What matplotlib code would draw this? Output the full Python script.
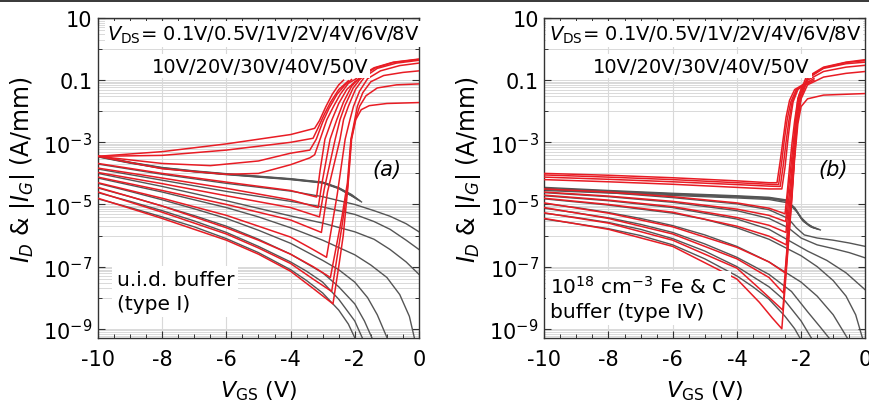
import numpy as np
import matplotlib.pyplot as plt
from matplotlib.ticker import FixedLocator, NullFormatter
from matplotlib.patches import Rectangle

# drain bias of each transfer sweep
vds = [0.1, 0.5, 1, 2, 4, 6, 8, 10, 20, 30, 40, 50]

# each sweep: (VGS [V], log10 current [A/mm]), listed in the order of vds
# (a) u.i.d. buffer, drain current
id_a = [
    [(-10, -4.8), (-8, -5.45), (-6, -6.15), (-5, -6.6), (-4, -7.15), (-3.3, -7.7), (-2.68, -8.2),
     (-2.5, -7.0), (-2.36, -6.0), (-2.22, -4.5), (-2.1, -2.9), (-1.97, -2.27), (-1.8, -1.95),
     (-1.55, -1.82), (-1.0, -1.75), (0, -1.72)],
    [(-10, -4.6), (-8, -5.25), (-6, -5.95), (-5, -6.4), (-4, -6.9), (-3.3, -7.4), (-2.72, -7.8),
     (-2.4, -5.7), (-2.22, -4.4), (-2.11, -2.9), (-1.98, -2.27), (-1.85, -1.84), (-1.65, -1.5),
     (-1.3, -1.25), (-0.7, -1.15), (0, -1.12)],
    [(-10, -4.45), (-8, -5.05), (-6, -5.75), (-5, -6.15), (-4, -6.6), (-3.3, -7.0), (-2.76, -7.35),
     (-2.4, -5.4), (-2.23, -4.3), (-2.12, -2.9), (-2.0, -2.27), (-1.92, -1.84), (-1.75, -1.4),
     (-1.5, -1.05), (-1.1, -0.85), (-0.5, -0.75), (0, -0.7)],
    [(-10, -4.3), (-8, -4.8), (-6, -5.35), (-4, -6.05), (-3.3, -6.45), (-2.88, -6.7),
     (-2.55, -4.7), (-2.3, -2.9), (-2.15, -2.27), (-2.04, -1.84), (-1.85, -1.35), (-1.6, -0.95),
     (-1.2, -0.7), (-0.6, -0.53), (0, -0.45)],
    [(-10, -4.12), (-8, -4.55), (-6, -5.0), (-4, -5.5), (-3.04, -5.9),
     (-2.85, -4.6), (-2.46, -2.9), (-2.35, -2.27), (-2.2, -1.84), (-1.98, -1.3), (-1.7, -0.9),
     (-1.3, -0.62), (-0.7, -0.45), (0, -0.36)],
    [(-10, -3.97), (-8, -4.33), (-6, -4.72), (-4, -5.1), (-3.1, -5.4),
     (-2.95, -4.5), (-2.61, -2.9), (-2.46, -2.27), (-2.3, -1.8), (-2.05, -1.25), (-1.75, -0.85),
     (-1.35, -0.6), (-0.8, -0.43), (0, -0.33)],
    [(-10, -3.83), (-8, -4.15), (-6, -4.48), (-4, -4.85), (-3.14, -5.1),
     (-3.02, -4.3), (-2.77, -2.9), (-2.56, -2.27), (-2.35, -1.7), (-2.1, -1.2), (-1.8, -0.85),
     (-1.4, -0.6), (-0.8, -0.42), (0, -0.32)],
    [(-10, -3.68), (-8, -4.0), (-6, -4.28), (-4, -4.55), (-3.19, -4.76),
     (-3.08, -3.9), (-2.93, -2.9), (-2.71, -2.27), (-2.5, -1.75), (-2.25, -1.3), (-2.0, -1.05),
     (-1.8, -0.93)],
    [(-10, -3.45), (-8, -3.85), (-6, -4.03), (-5, -4.0), (-4, -3.72), (-3.4, -3.5), (-3.25, -3.4),
     (-3.08, -2.9), (-2.87, -2.27), (-2.66, -1.84), (-2.45, -1.45), (-2.2, -1.1), (-1.95, -0.95)],
    [(-10, -3.45), (-8, -3.68), (-6.5, -3.75), (-5, -3.6), (-4, -3.35), (-3.4, -3.25),
     (-3.2, -2.9), (-3.0, -2.35), (-2.8, -1.9), (-2.55, -1.45), (-2.3, -1.15), (-2.1, -0.98)],
    [(-10, -3.45), (-8, -3.42), (-6, -3.25), (-4, -3.0), (-3.3, -2.87),
     (-3.15, -2.55), (-2.95, -2.1), (-2.75, -1.7), (-2.5, -1.3), (-2.2, -1.02)],
    [(-10, -3.45), (-8, -3.3), (-6, -3.05), (-4, -2.75), (-3.25, -2.55),
     (-3.1, -2.3), (-2.9, -1.85), (-2.7, -1.45), (-2.5, -1.15), (-2.35, -1.0)],
]

# (a) u.i.d. buffer, gate current magnitude
ig_a = [
    [(-10, -4.82), (-9, -5.1), (-8, -5.4), (-7, -5.72), (-6, -6.1), (-5, -6.55), (-4, -7.1), (-3.5, -7.45),
     (-3, -7.85), (-2.5, -8.4), (-2.2, -8.85), (-1.95, -9.4)],
    [(-10, -4.62), (-9, -4.9), (-8, -5.2), (-7, -5.53), (-6, -5.9), (-5, -6.35), (-4, -6.85), (-3.5, -7.15),
     (-3, -7.5), (-2.5, -8.05), (-2.0, -8.75), (-1.72, -9.4)],
    [(-10, -4.47), (-9, -4.75), (-8, -5.05), (-7, -5.36), (-6, -5.7), (-5, -6.12), (-4, -6.6), (-3, -7.2),
     (-2.5, -7.65), (-2.0, -8.2), (-1.7, -8.75), (-1.42, -9.4)],
    [(-10, -4.32), (-9, -4.58), (-8, -4.85), (-7, -5.14), (-6, -5.45), (-5, -5.83), (-4, -6.25), (-3, -6.8),
     (-2.5, -7.1), (-2, -7.5), (-1.6, -8.0), (-1.3, -8.55), (-0.95, -9.4)],
    [(-10, -4.15), (-8, -4.6), (-6, -5.1), (-5, -5.4), (-4, -5.75), (-3, -6.15), (-2, -6.62), (-1.5, -6.95),
     (-1, -7.35), (-0.6, -7.9), (-0.3, -8.6), (-0.12, -9.4)],
    [(-10, -4.0), (-8, -4.42), (-6, -4.88), (-4, -5.37), (-3, -5.6), (-2, -5.88), (-1.4, -6.12), (-0.9, -6.45),
     (-0.4, -6.85), (0, -7.25)],
    [(-10, -3.86), (-8, -4.22), (-6, -4.58), (-4, -4.9), (-3, -5.08), (-2, -5.32), (-1.4, -5.55), (-0.9, -5.8),
     (-0.4, -6.15), (0, -6.45)],
    [(-10, -3.7), (-8, -4.03), (-6, -4.32), (-4, -4.57), (-3, -4.75), (-2, -5.0), (-1.4, -5.2), (-0.9, -5.38),
     (-0.4, -5.62), (0, -5.88)],
    [(-10, -3.47), (-9, -3.67), (-8, -3.84), (-7, -3.95), (-6, -4.04), (-5, -4.12), (-4, -4.2), (-3, -4.31),
     (-2.5, -4.49), (-2.0, -4.78)],
    [(-10, -3.46), (-9, -3.66), (-8, -3.83), (-7, -3.94), (-6, -4.03), (-5, -4.11), (-4, -4.19), (-3, -4.3),
     (-2.5, -4.48), (-2.1, -4.72), (-1.9, -4.85)],
    [(-10, -3.45), (-9, -3.65), (-8, -3.82), (-7, -3.93), (-6, -4.02), (-5, -4.1), (-4, -4.18), (-3, -4.29),
     (-2.5, -4.47), (-2.1, -4.7), (-1.85, -4.88)],
    [(-10, -3.44), (-9, -3.64), (-8, -3.81), (-7, -3.92), (-6, -4.01), (-5, -4.09), (-4, -4.17), (-3, -4.28),
     (-2.5, -4.46), (-2.1, -4.68), (-1.79, -4.92)],
]

# (b) 1e18 cm-3 Fe & C buffer, drain current
id_b = [
    [(-10, -5.45), (-8, -5.8), (-6, -6.35), (-4, -7.4), (-3.3, -8.15), (-2.9, -8.65), (-2.6, -9.0),
     (-2.45, -7.0), (-2.3, -5.0), (-2.2, -3.5), (-2.1, -2.4), (-2.0, -1.85), (-1.8, -1.6), (-1.3, -1.48),
     (0, -1.43)],
    [(-10, -5.27), (-8, -5.6), (-6, -6.15), (-4, -7.05), (-3.2, -7.8), (-2.57, -8.4),
     (-2.43, -6.6), (-2.3, -4.9), (-2.2, -3.4), (-2.12, -2.4), (-2.0, -1.6), (-1.8, -1.15), (-1.3, -0.9),
     (-0.6, -0.78), (0, -0.72)],
    [(-10, -5.1), (-8, -5.45), (-6, -5.95), (-4, -6.75), (-3, -7.35), (-2.55, -7.85),
     (-2.42, -6.3), (-2.3, -4.8), (-2.2, -3.35), (-2.13, -2.4), (-2.0, -1.55), (-1.8, -1.0), (-1.3, -0.72),
     (-0.6, -0.58), (0, -0.52)],
    [(-10, -4.95), (-8, -5.28), (-6, -5.72), (-4, -6.38), (-3, -6.85), (-2.5, -7.2),
     (-2.4, -5.9), (-2.3, -4.7), (-2.2, -3.3), (-2.14, -2.4), (-2.02, -1.5), (-1.8, -0.95), (-1.3, -0.62),
     (-0.6, -0.47), (0, -0.42)],
    [(-10, -4.8), (-8, -5.0), (-6, -5.25), (-4, -5.7), (-3, -6.02), (-2.46, -6.3),
     (-2.38, -5.2), (-2.3, -4.3), (-2.2, -3.2), (-2.15, -2.4), (-2.04, -1.5), (-1.8, -0.92), (-1.3, -0.6),
     (-0.6, -0.43), (0, -0.37)],
    [(-10, -4.7), (-8, -4.86), (-6, -5.07), (-4, -5.42), (-3, -5.67), (-2.47, -5.9),
     (-2.4, -5.0), (-2.32, -4.2), (-2.23, -3.2), (-2.17, -2.4), (-2.07, -1.5), (-1.85, -0.92), (-1.3, -0.58),
     (-0.6, -0.42), (0, -0.34)],
    [(-10, -4.6), (-8, -4.73), (-6, -4.9), (-4, -5.15), (-3, -5.35), (-2.48, -5.55),
     (-2.42, -4.8), (-2.34, -4.0), (-2.25, -3.1), (-2.18, -2.4), (-2.1, -1.6), (-1.95, -1.15), (-1.6, -0.95)],
    [(-10, -4.5), (-8, -4.6), (-6, -4.75), (-4, -4.95), (-3, -5.12), (-2.5, -5.3),
     (-2.43, -4.6), (-2.36, -3.8), (-2.28, -3.0), (-2.2, -2.3), (-2.1, -1.6), (-1.95, -1.2), (-1.6, -1.0)],
    [(-10, -4.2), (-8, -4.27), (-6, -4.35), (-4, -4.45), (-3, -4.5), (-2.6, -4.5),
     (-2.5, -3.8), (-2.42, -3.0), (-2.34, -2.3), (-2.25, -1.7), (-2.1, -1.3), (-1.75, -1.05)],
    [(-10, -4.12), (-8, -4.19), (-6, -4.27), (-4, -4.36), (-3, -4.41), (-2.65, -4.42),
     (-2.55, -3.7), (-2.47, -3.0), (-2.38, -2.3), (-2.28, -1.7), (-2.12, -1.3), (-1.8, -1.08)],
    [(-10, -4.05), (-8, -4.12), (-6, -4.2), (-4, -4.3), (-3, -4.35), (-2.7, -4.36),
     (-2.6, -3.6), (-2.52, -2.9), (-2.43, -2.25), (-2.32, -1.7), (-2.15, -1.3), (-1.85, -1.1)],
    [(-10, -4.0), (-8, -4.06), (-6, -4.14), (-4, -4.24), (-3, -4.3), (-2.75, -4.3),
     (-2.65, -3.6), (-2.56, -2.9), (-2.47, -2.2), (-2.36, -1.65), (-2.2, -1.3), (-1.9, -1.12)],
]

# (b) 1e18 cm-3 Fe & C buffer, gate current magnitude
ig_b = [
    [(-10, -5.47), (-9, -5.62), (-8, -5.78), (-7, -6.0), (-6, -6.3), (-5, -6.75), (-4, -7.3), (-3.5, -7.65),
     (-3, -8.05), (-2.5, -8.6), (-2.2, -9.0), (-1.98, -9.4)],
    [(-10, -5.28), (-9, -5.42), (-8, -5.58), (-7, -5.8), (-6, -6.1), (-5, -6.5), (-4, -7.0), (-3, -7.65),
     (-2.5, -8.1), (-2.0, -8.75), (-1.62, -9.4)],
    [(-10, -5.12), (-9, -5.27), (-8, -5.43), (-7, -5.64), (-6, -5.9), (-5, -6.27), (-4, -6.7), (-3, -7.25),
     (-2.3, -7.8), (-1.8, -8.45), (-1.4, -8.95), (-1.05, -9.4)],
    [(-10, -4.97), (-9, -5.1), (-8, -5.26), (-7, -5.45), (-6, -5.68), (-5, -5.98), (-4, -6.35), (-3, -6.85),
     (-2, -7.5), (-1.5, -7.95), (-1, -8.55), (-0.5, -9.4)],
    [(-10, -4.82), (-8, -5.02), (-6, -5.28), (-5, -5.48), (-4, -5.75), (-3, -6.12), (-2, -6.65), (-1.5, -7.0),
     (-1, -7.45), (-0.6, -7.95), (-0.3, -8.55), (-0.06, -9.4)],
    [(-10, -4.72), (-8, -4.88), (-6, -5.1), (-4, -5.47), (-3, -5.8), (-2.4, -6.15), (-1.8, -6.5), (-1.2, -6.8),
     (-0.6, -7.2), (0, -7.75)],
    [(-10, -4.62), (-8, -4.75), (-6, -4.93), (-4, -5.2), (-3, -5.45), (-2.4, -5.75), (-2.0, -6.08), (-1.5, -6.3),
     (-1.0, -6.42), (-0.5, -6.55), (0, -6.72)],
    [(-10, -4.52), (-8, -4.62), (-6, -4.78), (-4, -4.98), (-3, -5.17), (-2.4, -5.45), (-2.15, -5.75),
     (-1.9, -5.98), (-1.5, -6.08), (-1.0, -6.15), (-0.5, -6.24), (0, -6.35)],
    [(-10, -4.45), (-8, -4.55), (-6, -4.64), (-4, -4.72), (-3, -4.77), (-2.48, -4.85), (-2.2, -5.1),
     (-2.0, -5.42), (-1.8, -5.62), (-1.6, -5.75)],
    [(-10, -4.48), (-8, -4.57), (-6, -4.66), (-4, -4.74), (-3, -4.79), (-2.45, -4.88), (-2.18, -5.15),
     (-1.98, -5.48), (-1.75, -5.68), (-1.5, -5.78)],
    [(-10, -4.5), (-8, -4.6), (-6, -4.68), (-4, -4.76), (-3, -4.81), (-2.42, -4.9), (-2.15, -5.2),
     (-1.95, -5.52), (-1.7, -5.72), (-1.45, -5.8)],
    [(-10, -4.55), (-8, -4.63), (-6, -4.71), (-4, -4.79), (-3, -4.84), (-2.4, -4.95), (-2.12, -5.25),
     (-1.92, -5.55), (-1.65, -5.74), (-1.4, -5.82)],
]

ytick_vals = [1e1, 1e-1, 1e-3, 1e-5, 1e-7, 1e-9]
ytick_labels = ['10', '0.1', '$10^{-3}$', '$10^{-5}$', '$10^{-7}$', '$10^{-9}$']
xtick_vals = [-10, -8, -6, -4, -2, 0]
xtick_labels = ['-10', '-8', '-6', '-4', '-2', '0']

red = '#e81c24'
gray = '#555555'
grid_col = '#d9d9d9'

plt.rcParams['font.family'] = 'DejaVu Sans'
plt.rcParams['mathtext.fontset'] = 'dejavusans'

fig = plt.figure(figsize=(8.7, 4.14), dpi=100)
ax_a = fig.add_axes([0.1126, 0.181, 0.369, 0.773])
ax_b = fig.add_axes([0.6256, 0.181, 0.369, 0.773])

# dark rule along the top edge of the page
fig.add_artist(Rectangle((0, 1 - 3 / 414), 1, 3 / 414, transform=fig.transFigure,
                         color='#3c3c3c', lw=0))


def panel(ax, id_curves, ig_curves, tag, note, note_x, note_y, top_x):
    # light grid: verticals at major x ticks, bands of lines under each labelled decade
    for x in xtick_vals[1:-1]:
        ax.axvline(x, color=grid_col, lw=0.8, zorder=0)
    for yv in ytick_vals:
        for m in range(1, 10):
            ax.axhline(yv / 10 * m, color=grid_col, lw=0.7, zorder=0)
        ax.axhline(yv, color=grid_col, lw=0.7, zorder=0)

    for c in ig_curves:
        c = np.array(c)
        ax.semilogy(c[:, 0], 10 ** c[:, 1], color=gray, lw=1.0, zorder=2)
    for c in id_curves:
        c = np.array(c)
        ax.semilogy(c[:, 0], 10 ** c[:, 1], color=red, lw=1.1, zorder=3)

    ax.set_xlim(-10, 0)
    ax.set_ylim(10 ** -9.3, 10 ** 1.0)
    ax.xaxis.set_major_locator(FixedLocator(xtick_vals))
    ax.set_xticklabels(xtick_labels)
    ax.xaxis.set_minor_locator(FixedLocator(np.arange(-10, 0.01, 0.5)))
    ax.yaxis.set_major_locator(FixedLocator(ytick_vals))
    ax.set_yticklabels(ytick_labels)
    ax.yaxis.set_minor_locator(FixedLocator([1e0, 1e-2, 1e-4, 1e-6, 1e-8]))
    ax.yaxis.set_minor_formatter(NullFormatter())
    ax.tick_params(which='both', direction='in', top=True, right=True, labelsize=15,
                   color='#333333')
    ax.tick_params(which='major', length=5, width=0.8)
    ax.tick_params(which='minor', length=3, width=0.7)
    ax.tick_params(axis='x', pad=8)
    ax.tick_params(axis='y', pad=4)
    for s in ax.spines.values():
        s.set_color('#333333')
        s.set_linewidth(1.0)

    ax.set_xlabel(r'$V_{\rm GS}$ (V)', fontsize=16)
    ax.set_ylabel(r'$I_D$ & $|I_G|$ (A/mm)', fontsize=17)
    ax.xaxis.set_label_coords(0.5, -0.125)
    ax.yaxis.set_label_coords(-0.19, 0.53)

    box = dict(facecolor='white', edgecolor='none', pad=1.5)
    ax.text(top_x, 0.95, r'$V_{\rm DS}$= 0.1V/0.5V/1V/2V/4V/6V/8V', transform=ax.transAxes,
            ha='center', va='center', fontsize=14, bbox=box, zorder=5)
    ax.text(top_x - 0.01, 0.85, '10V/20V/30V/40V/50V', transform=ax.transAxes,
            ha='center', va='center', fontsize=14, bbox=box, zorder=5)
    ax.text(0.9, 0.528, tag, transform=ax.transAxes, ha='center', va='center',
            fontsize=15, style='italic', zorder=5)
    ax.text(note_x, note_y, note, transform=ax.transAxes, ha='left', va='center',
            fontsize=14.5, linespacing=1.3, zorder=5,
            bbox=dict(facecolor='white', edgecolor='none', pad=3))


panel(ax_a, id_a, ig_a, '(a)', 'u.i.d. buffer\n(type I)', 0.058, 0.145, 0.514)
panel(ax_b, id_b, ig_b, '(b)', '$10^{18}$ cm$^{-3}$ Fe & C\nbuffer (type IV)', 0.018, 0.125, 0.50)

fig.savefig('out.png', dpi=100)
